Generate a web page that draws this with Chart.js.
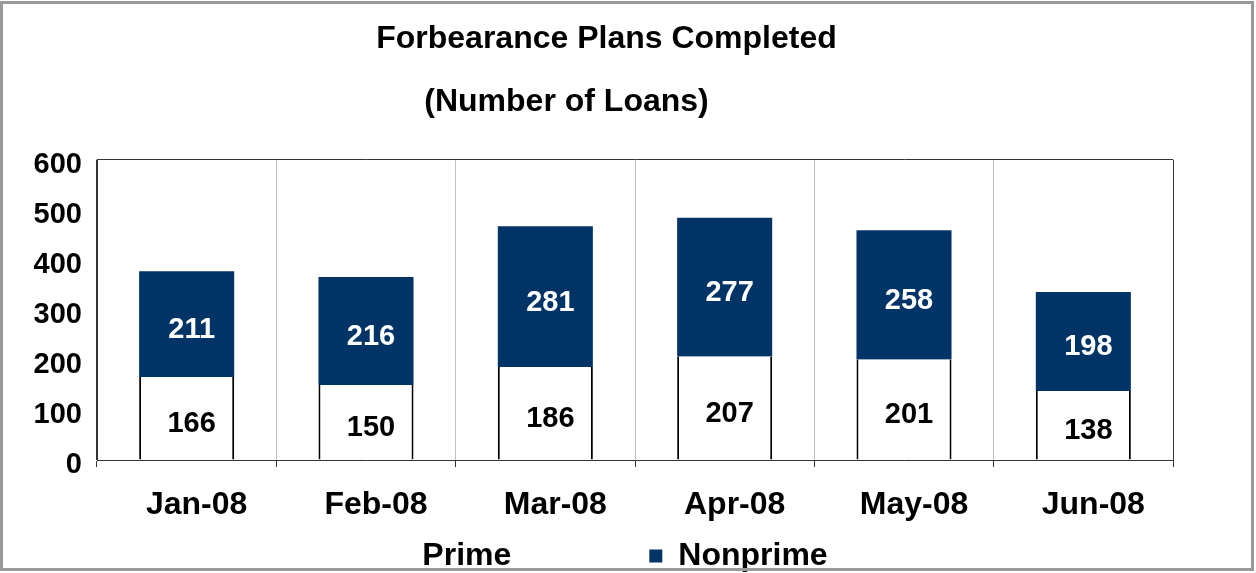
<!DOCTYPE html>
<html>
<head>
<meta charset="utf-8">
<script src="https://cdn.jsdelivr.net/npm/chart.js@4"></script>
<style>
  body { margin: 0; background: #fff; }
  #wrap { position: relative; width: 1256px; height: 573px; overflow: hidden; }
  #box { width: 1256px; height: 582px; }
  #frame { position: absolute; left: 0; top: 1px; width: 1254px; height: 570px; box-sizing: border-box; border: 3px solid #999; pointer-events: none; }
</style>
</head>
<body>
<div id="wrap">
  <div id="box"><canvas id="c"></canvas></div>
  <div id="frame"></div>
</div>
<script>
const months = ['Jan-08', 'Feb-08', 'Mar-08', 'Apr-08', 'May-08', 'Jun-08'];
const prime = [166, 150, 186, 207, 201, 138];
const nonprime = [211, 216, 281, 277, 258, 198];
const yTicks = [0, 100, 200, 300, 400, 500, 600];

const titleTxt = 'Forbearance Plans Completed';
const subTxt = '(Number of Loans)';

const navy = '#003366';
const dark = '#333';
const lite = '#c0c0c0';

Chart.defaults.font.family = "'Liberation Sans', Arial, sans-serif";
Chart.defaults.font.weight = 'bold';
Chart.defaults.color = '#000';

// numbers in the middle of every bar piece
const barNums = {
  id: 'barNums',
  afterDatasetsDraw(chart) {
    const ctx = chart.ctx;
    ctx.save();
    ctx.font = "bold 29px 'Liberation Sans', Arial, sans-serif";
    ctx.textAlign = 'center';
    ctx.textBaseline = 'middle';
    chart.data.datasets.forEach((ds, i) => {
      ctx.fillStyle = i === 0 ? '#000' : '#fff';
      chart.getDatasetMeta(i).data.forEach((el, j) => {
        const p = el.getProps(['x', 'y', 'base'], true);
        ctx.fillText(ds.data[j], p.x + 5, (p.y + p.base) / 2 + 6);
      });
    });
    ctx.restore();
  }
};

// legend: keep the wide gap between items without the tall box,
// move subtitle left like the original, let y labels draw past the axis box
const nudge = {
  id: 'nudge',
  beforeLayout(chart) {
    const lg = chart.legend;
    if (lg && !lg._wrapped) {
      const fit = lg.fit;
      lg.fit = function () { fit.call(this); this.height -= this.options.labels.padding; };
      lg._wrapped = true;
    }
  },
  afterLayout(chart) {
    const lg = chart.legend;
    lg.top -= lg.options.labels.padding;
    lg.left += 4; lg.right += 4;
    chart.boxes.forEach(b => {
      if (b.options && b.options.text === subTxt) { b.left -= 40; b.right -= 40; }
    });
    chart.scales.y.left = 0;
  }
};

new Chart(document.getElementById('c'), {
  type: 'bar',
  data: {
    labels: months,
    datasets: [
      {
        label: 'Prime', data: prime, backgroundColor: '#fff', borderColor: '#000',
        borderWidth: { left: 2, right: 2, top: 0, bottom: 0 },
        categoryPercentage: 0.53, barPercentage: 1
      },
      {
        label: 'Nonprime', data: nonprime, backgroundColor: navy, borderWidth: 0,
        categoryPercentage: 0.53, barPercentage: 1
      }
    ]
  },
  options: {
    responsive: true,
    maintainAspectRatio: false,
    animation: false,
    layout: { padding: { left: 40, right: 83, top: 0, bottom: 0 } },
    plugins: {
      title: { display: true, text: titleTxt, font: { size: 32 }, padding: { top: 20, bottom: 0 } },
      subtitle: { display: true, text: subTxt, color: '#000', font: { size: 32, weight: 'bold' }, padding: { top: 25, bottom: 38 } },
      legend: {
        position: 'bottom',
        labels: {
          font: { size: 32 }, boxWidth: 13, boxHeight: 13, padding: 138,
          generateLabels(chart) {
            const items = Chart.defaults.plugins.legend.labels.generateLabels(chart);
            items.forEach(it => {
              if (it.datasetIndex === 0) { it.fillStyle = 'rgba(0,0,0,0)'; it.strokeStyle = 'rgba(0,0,0,0)'; it.lineWidth = 0; }
              else { it.lineWidth = 0; }
            });
            return items;
          }
        }
      },
      tooltip: { enabled: false }
    },
    scales: {
      x: {
        stacked: true,
        grid: {
          offset: true,
          color: c => (c.index === 0 || c.tick === undefined) ? dark : lite,
          tickColor: dark, tickLength: 7
        },
        border: { display: true, color: dark },
        ticks: { font: { size: 32 }, color: '#000', padding: 19, labelOffset: 10, maxRotation: 0 },
        afterFit(s) { s.height = 80; }
      },
      y: {
        stacked: true, min: 0, max: 600,
        afterBuildTicks(s) { s.ticks = yTicks.map(v => ({ value: v })); },
        grid: {
          drawTicks: false,
          color: c => (c.tick && c.tick.value === 600) ? dark : 'rgba(0,0,0,0)'
        },
        border: { display: true, color: dark },
        ticks: { font: { size: 29 }, color: '#000', padding: 15, labelOffset: 5 },
        afterFit(s) { s.width = 57; }
      }
    }
  },
  plugins: [barNums, nudge]
});
</script>
</body>
</html>
